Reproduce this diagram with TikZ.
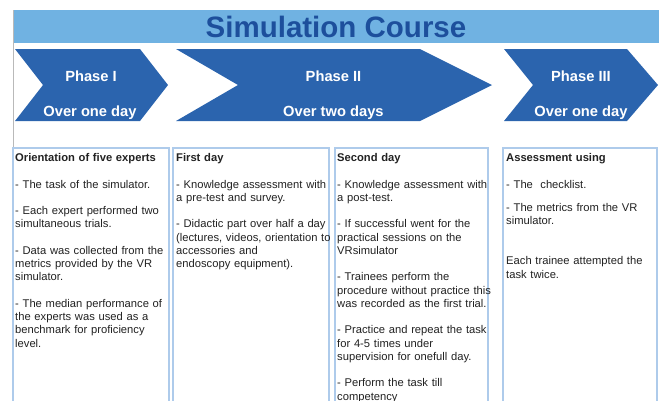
\documentclass[tikz,border=0pt]{standalone}
\usepackage{fontspec}
\setmainfont{Liberation Sans}
\usepackage{tikz}
\definecolor{barblue}{HTML}{70B2E2}
\definecolor{titleblue}{HTML}{1D4F9C}
\definecolor{phaseblue}{HTML}{2B64AE}
\definecolor{frameblue}{HTML}{AECBEB}
\definecolor{bodytext}{HTML}{222222}
\tikzset{
  phasetxt/.style = {white,font=\fontsize{14.7}{17}\selectfont\bfseries,anchor=base},
  colbox/.style   = {draw=frameblue,line width=1.8pt,fill=white},
  coltxt/.style   = {anchor=base west,text width=158pt,align=left,inner sep=0pt,
                     text=bodytext,font=\fontsize{11.2}{13.25}\selectfont}
}
% chevron: left x, notch x, shoulder x, tip x
\newcommand{\chevron}[4]{%
  \fill[phaseblue] (#1,49) -- (#3,49) -- (#4,85) -- (#3,121) -- (#1,121) -- (#2,85) -- cycle;
}
\newcommand{\gapline}{\\[13.25pt]}

\begin{document}
\begin{tikzpicture}[x=1pt,y=-1pt]
  \useasboundingbox (0,0) rectangle (659,400);
  \fill[barblue] (13,10) rectangle (659,43.3);
  \draw[gray!55,line width=0.8pt] (13,10) -- (13,148);
  \node[font=\fontsize{29.5}{34}\selectfont\bfseries,text=titleblue] (title) at (336,27) {Simulation Course};

  \chevron{15}{43}{140}{168}
  \chevron{176}{238}{420}{492}
  \chevron{504}{533}{627}{658}
  \node[phasetxt] (ph1)  at (91,81.7)   {Phase I};
  \node[phasetxt] (ph1d) at (90,116.7)  {Over one day};
  \node[phasetxt] (ph2)  at (333.5,81.7)  {Phase II};
  \node[phasetxt] (ph2d) at (333.4,116.7) {Over two days};
  \node[phasetxt] (ph3)  at (581,81.7)  {Phase III};
  \node[phasetxt] (ph3d) at (581,116.7) {Over one day};

  \draw[colbox] (13,148) rectangle (169,410);
  \draw[colbox] (173,148) rectangle (329,410);
  \draw[colbox] (335,148) rectangle (488,410);
  \draw[colbox] (503,148) rectangle (657,410);

  \node[coltxt] (orient) at (15,161.5) {\textbf{Orientation of five experts}\gapline
    - The task of the simulator.\gapline
    - Each expert performed two\\ simultaneous trials.\gapline
    - Data was collected from the\\ metrics provided by the VR\\ simulator.\gapline
    - The median performance of\\ the experts was used as a\\ benchmark for proficiency\\ level.};
  \node[coltxt] (firstday) at (176,161.5) {\textbf{First day}\gapline
    - Knowledge assessment with\\ a pre-test and survey.\gapline
    - Didactic part over half a day\\ (lectures, videos, orientation to\\ accessories and\\ endoscopy equipment).};
  \node[coltxt] (secondday) at (337,161.5) {\textbf{Second day}\gapline
    - Knowledge assessment with\\ a post-test.\gapline
    - If successful went for the\\ practical sessions on the\\ VRsimulator\gapline
    - Trainees perform the\\ procedure without practice this\\ was recorded as the first trial.\gapline
    - Practice and repeat the task\\ for 4-5 times under\\ supervision for onefull day.\gapline
    - Perform the task till\\ competency};
  \node[coltxt] (assess) at (506,161.5) {\textbf{Assessment using}\gapline
    - The\ \ checklist.\\[10pt]
    - The metrics from the VR\\ simulator.\\[27pt]
    Each trainee attempted the\\ task twice.};
\end{tikzpicture}
\end{document}
